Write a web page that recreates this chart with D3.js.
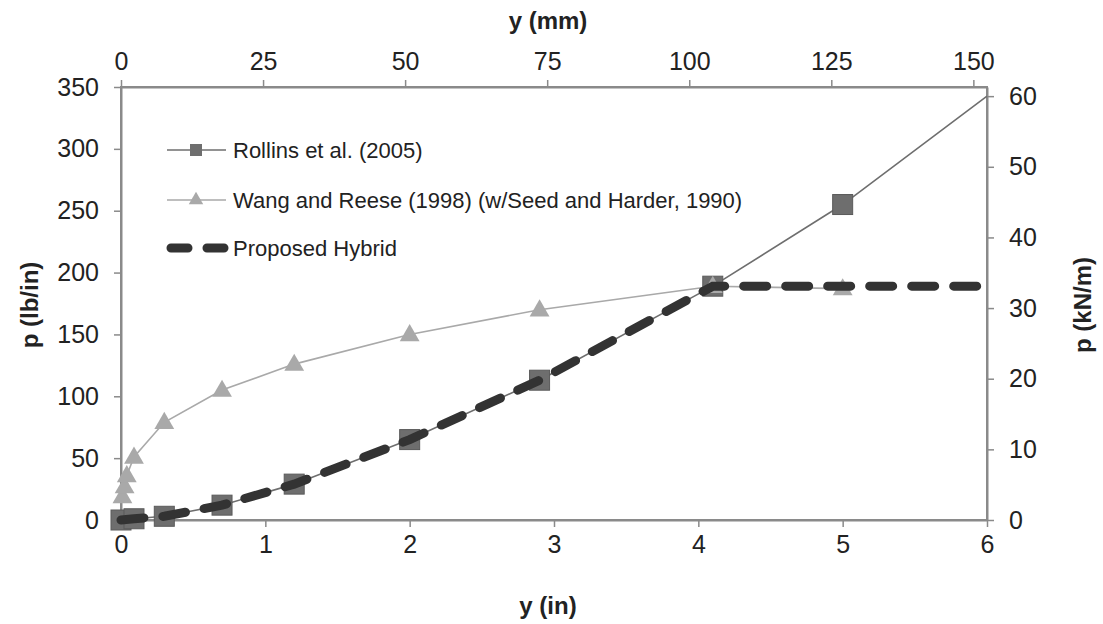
<!DOCTYPE html>
<html><head><meta charset="utf-8">
<script src="https://cdn.jsdelivr.net/npm/d3@7"></script>
<style>
body{margin:0;background:#fff;}
text{font-family:"Liberation Sans",Arial,sans-serif;}
</style></head>
<body><svg id="c" width="1103" height="624"></svg>
<script>
// Data (y in inches, p in lb/in)
const rollinsX = [0, 0.09, 0.3, 0.7, 1.2, 2.0, 2.9, 4.1, 5.0, 6.0];
const rollinsP = [0, 1, 3, 12, 29, 65, 113, 189, 255, 342.6];
const wangX = [0.01, 0.025, 0.04, 0.09, 0.3, 0.7, 1.2, 2.0, 2.9, 4.1, 5.0];
const wangP = [19, 27, 36, 51, 79, 105, 126, 150, 170, 189, 187];
const hybridX = [0, 0.09, 0.3, 0.7, 1.2, 2.0, 2.9, 4.1, 6.0];
const hybridP = [0, 1, 3, 12, 29, 65, 113, 189, 189];
const xTicksIn = [0,1,2,3,4,5,6];
const yTicksLb = [0,50,100,150,200,250,300,350];
const xTicksMm = [0,25,50,75,100,125,150];
const yTicksKn = [0,10,20,30,40,50,60];
const legendLabels = ["Rollins et al. (2005)","Wang and Reese (1998) (w/Seed and Harder, 1990)","Proposed Hybrid"];

const svg = d3.select("#c");
const L=121,R=987,T=87,B=520;
const x = d3.scaleLinear().domain([0,6]).range([L,R]);
const y = d3.scaleLinear().domain([0,350]).range([B,T]);
const xMm = d3.scaleLinear().domain([0,6*25.4]).range([L,R]);
const yKn = d3.scaleLinear().domain([0,350*0.175127]).range([B,T]);

const axisCol="#8a8a8a";
function styleAxis(g){
  g.select(".domain").attr("stroke",axisCol).attr("stroke-width",2);
  g.selectAll(".tick line").attr("stroke",axisCol).attr("stroke-width",1.5);
  g.selectAll(".tick text").attr("fill","#222").style("font-size","25px").style("font-family","'Liberation Sans',Arial,sans-serif");
}
svg.append("g").attr("transform",`translate(0,${B})`)
  .call(d3.axisBottom(x).tickValues(xTicksIn).tickSize(7).tickSizeOuter(0).tickPadding(8).tickFormat(d3.format("d")))
  .call(styleAxis);
svg.append("g").attr("transform",`translate(0,${T})`)
  .call(d3.axisTop(xMm).tickValues(xTicksMm).tickSize(7).tickSizeOuter(0).tickPadding(10).tickFormat(d3.format("d")))
  .call(styleAxis);
svg.append("g").attr("transform",`translate(${L},0)`)
  .call(d3.axisLeft(y).tickValues(yTicksLb).tickSize(7).tickSizeOuter(0).tickPadding(15).tickFormat(d3.format("d")))
  .call(styleAxis);
svg.append("g").attr("transform",`translate(${R},0)`)
  .call(d3.axisRight(yKn).tickValues(yTicksKn).tickSize(7).tickSizeOuter(0).tickPadding(15).tickFormat(d3.format("d")))
  .call(styleAxis);
svg.append("rect").attr("x",L).attr("y",T).attr("width",R-L).attr("height",B-T)
  .attr("fill","none").attr("stroke",axisCol).attr("stroke-width",2);

// titles
const tf = (s)=>s.style("font-size","24px").style("font-weight","bold").attr("fill","#222").attr("text-anchor","middle");
svg.append("text").attr("x",548).attr("y",29).text("y (mm)").call(tf);
svg.append("text").attr("x",548).attr("y",614).text("y (in)").call(tf);
svg.append("text").attr("transform","translate(38,305) rotate(-90)").text("p (lb/in)").call(tf);
svg.append("text").attr("transform","translate(1091,305) rotate(-90)").text("p (kN/m)").call(tf);

const line = d3.line().x(d=>x(d[0])).y(d=>y(d[1]));
const rollins = rollinsX.map((v,i)=>[v,rollinsP[i]]);
const wang = wangX.map((v,i)=>[v,wangP[i]]);
const hybrid = hybridX.map((v,i)=>[v,hybridP[i]]);

const rCol="#6e6e6e", wCol="#a9a9a9", hCol="#333";
svg.append("path").attr("d",line(rollins)).attr("fill","none").attr("stroke",rCol).attr("stroke-width",1.6);
svg.selectAll(".sq").data(rollins.filter(d=>d[0]<6)).join("rect")
  .attr("x",d=>x(d[0])-10).attr("y",d=>y(d[1])-10).attr("width",20).attr("height",20)
  .attr("fill",rCol).attr("stroke","#5a5a5a").attr("stroke-width",1);
svg.append("path").attr("d",line(wang)).attr("fill","none").attr("stroke",wCol).attr("stroke-width",1.6);
const tri = d3.symbol().type(d3.symbolTriangle).size(170);
svg.selectAll(".tr").data(wang).join("path")
  .attr("d",tri).attr("transform",d=>`translate(${x(d[0])},${y(d[1])+1})`)
  .attr("fill",wCol);
svg.append("path").attr("d",line(hybrid)).attr("fill","none").attr("stroke",hCol).attr("stroke-width",9)
  .attr("stroke-linecap","round").attr("stroke-dasharray","23 19");

// Legend
const lg = svg.append("g");
const ly = [150,200,248];
lg.append("line").attr("x1",167).attr("x2",226).attr("y1",ly[0]).attr("y2",ly[0]).attr("stroke",rCol).attr("stroke-width",1.6);
lg.append("rect").attr("x",190).attr("y",ly[0]-6).attr("width",12).attr("height",12).attr("fill",rCol);
lg.append("line").attr("x1",167).attr("x2",226).attr("y1",ly[1]).attr("y2",ly[1]).attr("stroke",wCol).attr("stroke-width",1.6);
lg.append("path").attr("d",d3.symbol().type(d3.symbolTriangle).size(90)).attr("transform",`translate(196,${ly[1]})`).attr("fill",wCol);
lg.append("line").attr("x1",171).attr("x2",224).attr("y1",ly[2]).attr("y2",ly[2]).attr("stroke",hCol).attr("stroke-width",9)
  .attr("stroke-linecap","round").attr("stroke-dasharray","17 19");
lg.selectAll(".lt").data(legendLabels).join("text")
  .attr("x",233).attr("y",(d,i)=>ly[i]+8).text(d=>d)
  .style("font-size","22px").attr("fill","#222");
</script></body></html>
